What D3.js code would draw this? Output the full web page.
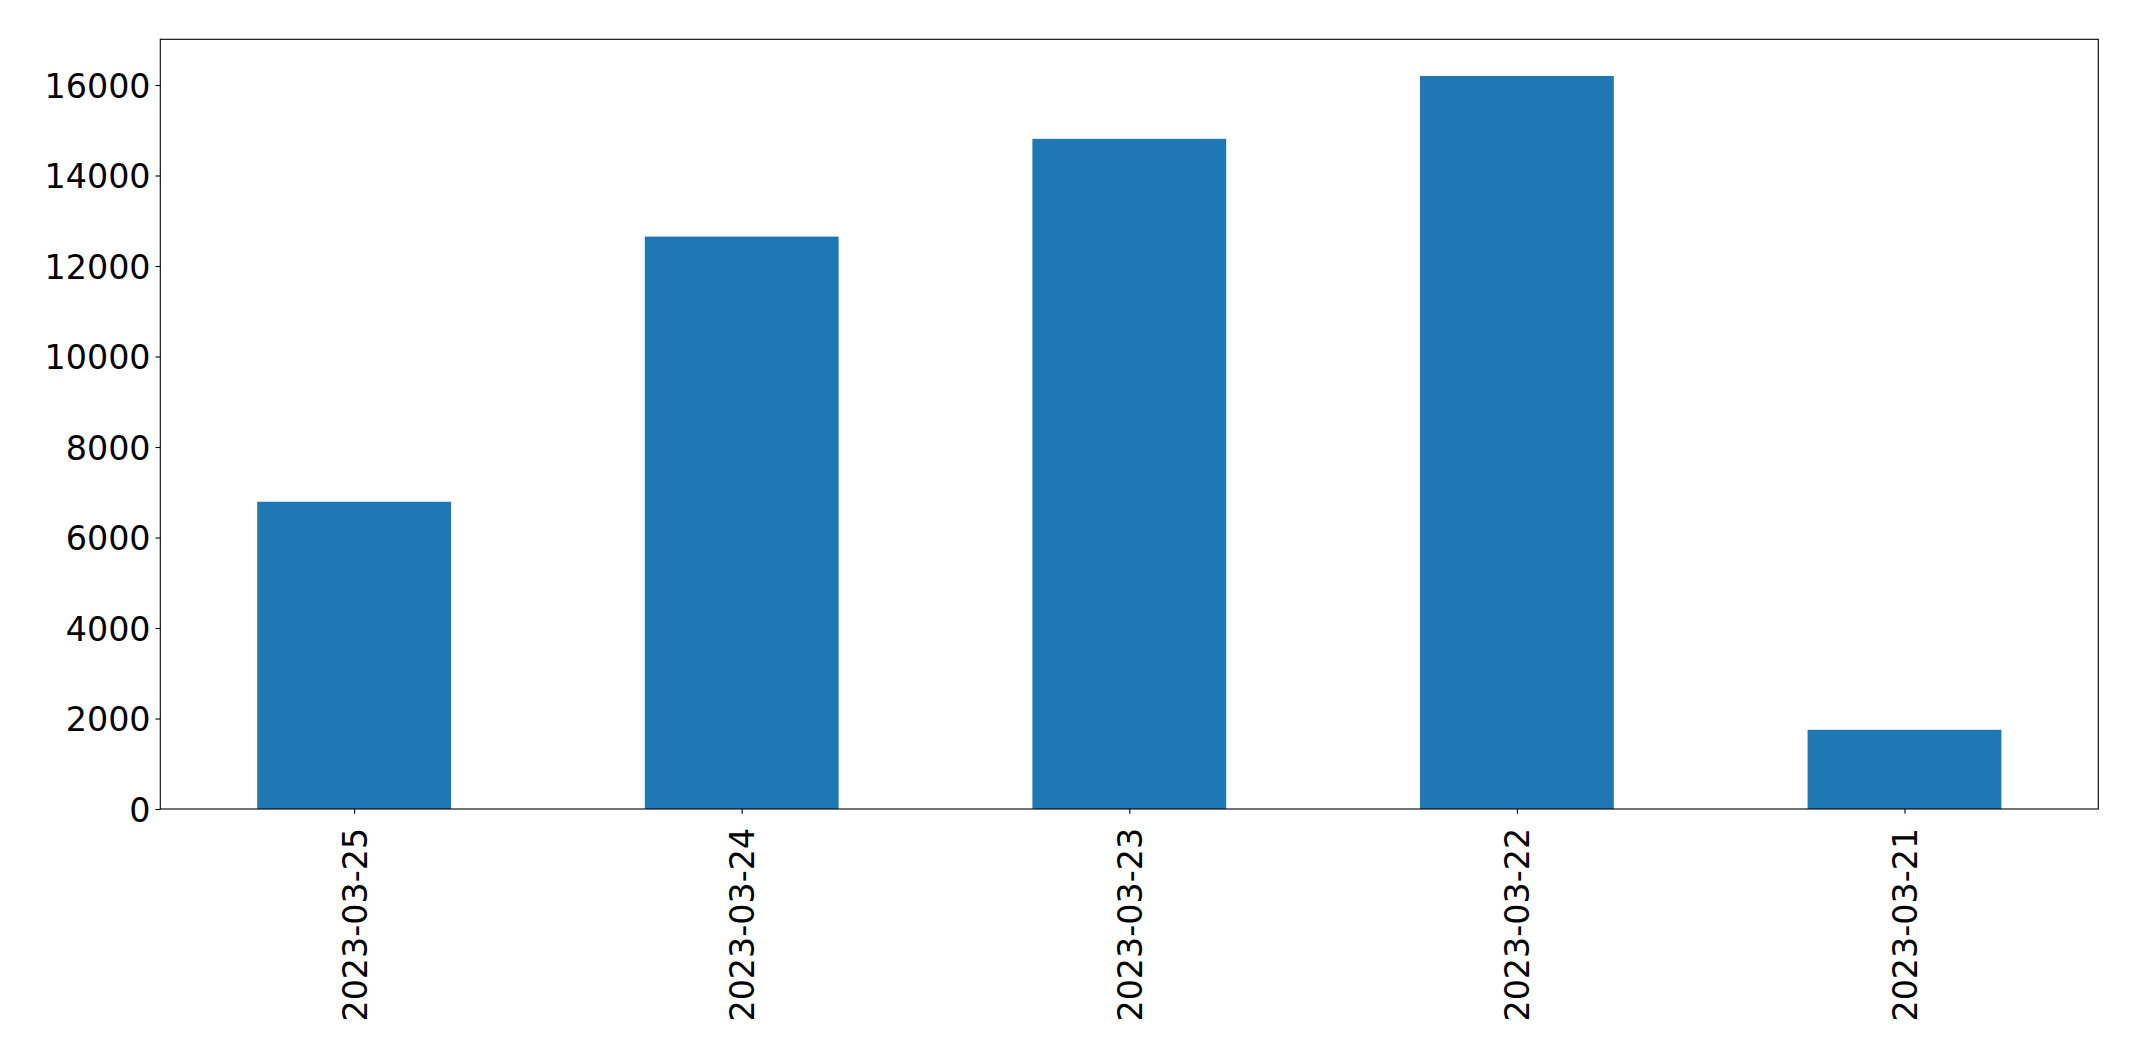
<!DOCTYPE html>
<html>
<head>
<meta charset="utf-8">
<script src="https://cdn.jsdelivr.net/npm/d3@7"></script>
<style>
  html, body { margin: 0; padding: 0; background: #fff; }
  svg { display: block; }
  text { font-family: "DejaVu Sans", sans-serif; fill: #000; }
</style>
</head>
<body>
<svg id="chart" width="2137" height="1061"></svg>
<script>
const categories = ["2023-03-25", "2023-03-24", "2023-03-23", "2023-03-22", "2023-03-21"];
const values = [6790, 12650, 14810, 16200, 1750];
const yTicks = [0, 2000, 4000, 6000, 8000, 10000, 12000, 14000, 16000];

const W = 2137, H = 1061;
const margin = { left: 160.3, right: W - 2098.3, top: 39.3, bottom: H - 809 };
const fontPx = 33.33;
const tickLen = 4.86;

const svg = d3.select("#chart");
const plotW = W - margin.left - margin.right;
const plotH = H - margin.top - margin.bottom;
const g = svg.append("g").attr("transform", `translate(${margin.left},${margin.top})`);

const yMax = d3.max(values) * 1.05;
const y = d3.scaleLinear().domain([0, yMax]).range([plotH, 0]);
const xLin = d3.scaleLinear().domain([-0.5, categories.length - 0.5]).range([0, plotW]);
const barW = 0.5;

g.selectAll("rect.bar").data(values).join("rect")
  .attr("class", "bar")
  .attr("x", (d, i) => xLin(i - barW / 2))
  .attr("width", (d, i) => xLin(i + barW / 2) - xLin(i - barW / 2))
  .attr("y", d => y(d))
  .attr("height", d => y(0) - y(d))
  .attr("fill", "#1f77b4");

// y axis
const yAxis = d3.axisLeft(y).tickValues(yTicks).tickFormat(d3.format("d")).tickSize(tickLen).tickPadding(4.86);
const ya = g.append("g").call(yAxis);
ya.select(".domain").remove();
ya.selectAll(".tick line").attr("stroke", "#000").attr("stroke-width", 1.1);
ya.selectAll(".tick text").attr("font-size", fontPx).attr("dy", "0.36em")
  .style("font-family", '"DejaVu Sans", sans-serif');

// x axis
const xAxis = d3.axisBottom(xLin).tickValues(d3.range(categories.length)).tickFormat(i => categories[i]).tickSize(tickLen).tickPadding(0);
const xa = g.append("g").attr("transform", `translate(0,${plotH})`).call(xAxis);
xa.select(".domain").remove();
xa.selectAll(".tick line").attr("stroke", "#000").attr("stroke-width", 1.1);
xa.selectAll(".tick text")
  .attr("font-size", fontPx)
  .attr("y", null).attr("dy", null)
  .attr("text-anchor", "end")
  .attr("transform", `translate(0,${tickLen + 14}) rotate(-90)`)
  .attr("dy", "0.36em")
  .style("font-family", '"DejaVu Sans", sans-serif');

// frame
g.append("rect").attr("x", 0).attr("y", 0).attr("width", plotW).attr("height", plotH)
  .attr("fill", "none").attr("stroke", "#000").attr("stroke-width", 1.1);
</script>
</body>
</html>
